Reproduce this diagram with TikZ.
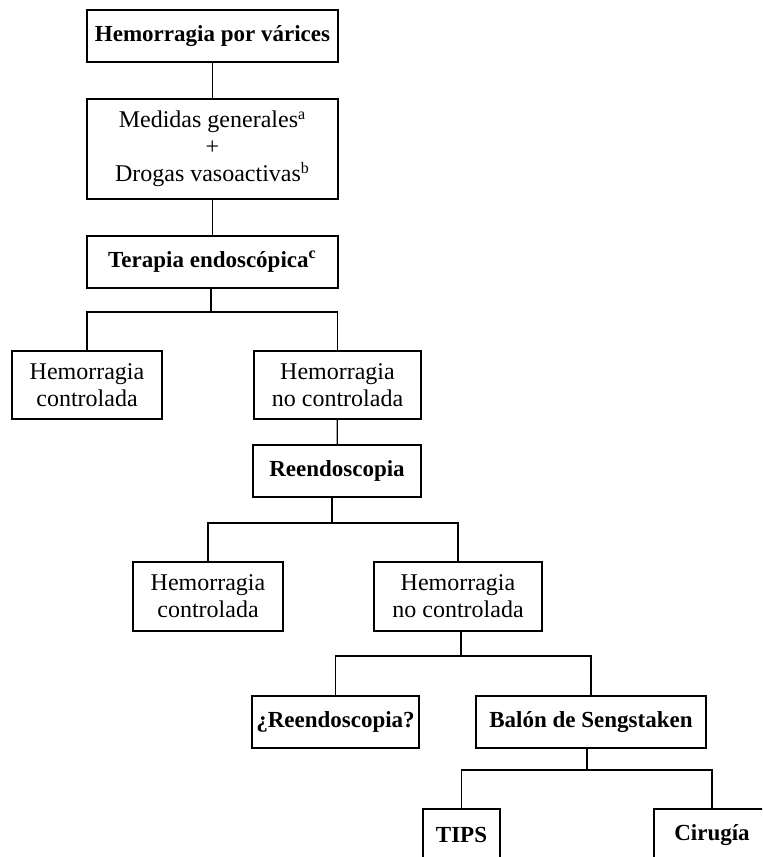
\documentclass[tikz,border=0pt]{standalone}
\usepackage{fontspec}
\setmainfont{Liberation Serif}
\usepackage{tikz}
\usetikzlibrary{positioning}

\begin{document}
\begin{tikzpicture}
 [ x=0.5pt
 , y=-0.5pt
 , line width=0.65pt
 , box/.style={draw, align=center, inner sep=0pt, font=\fontsize{12}{13.5}\selectfont}
 , strong/.style={box, font=\fontsize{11.5}{13.5}\selectfont\bfseries}
 , boxsize/.style 2 args={minimum width=#1*0.5pt, minimum height=#2*0.5pt}
 ]
  \useasboundingbox (0,0) rectangle (762,857);
  \clip (0,0) rectangle (762,857);

  \node [strong, boxsize={251}{52}] (varices) at (212.5,36) {Hemorragia por várices};
  \node [box, boxsize={251}{100}] (medidas) at (212.5,149)
    {Medidas generales\textsuperscript{a}\\+\\Drogas vasoactivas\textsuperscript{b}};
  \node [strong, boxsize={251}{52}] (terapia) at (212.5,262) {Terapia endoscópica\textsuperscript{c}};

  \node [box, boxsize={150}{68}] (controlada1) at (87,385) {Hemorragia\\controlada};
  \node [box, boxsize={167}{68}] (nocontrolada1) at (337.5,385) {Hemorragia\\no controlada};
  \node [strong, boxsize={168}{52}] (reendoscopia) at (337,471) {Reendoscopia};

  \node [box, boxsize={150}{69}] (controlada2) at (208,596.5) {Hemorragia\\controlada};
  \node [box, boxsize={168}{69}] (nocontrolada2) at (458,596.5) {Hemorragia\\no controlada};

  \node [strong, boxsize={167}{52}] (reendoscopia2) at (335.5,722) {¿Reendoscopia?};
  \node [strong, boxsize={230}{52}] (balon) at (591,722) {Balón de Sengstaken};

  \node [strong, boxsize={77}{52}] (tips) at (461.5,835) {TIPS};
  \node [strong, boxsize={116}{52}] (cirugia) at (712,835) {Cirugía};

  % junctions of the branches
  \coordinate (j1) at (211,312);
  \coordinate (j2) at (332,523);
  \coordinate (j3) at (461,656);
  \coordinate (j4) at (587,770);

  \draw (varices) -- (medidas);
  \draw (medidas) -- (terapia);
  \draw (terapia.south -| j1) -- (j1) -| (controlada1.north);
  \draw (j1) -| (nocontrolada1.north);
  \draw (nocontrolada1) -- (reendoscopia);
  \draw (reendoscopia.south -| j2) -- (j2) -| (controlada2.north);
  \draw (j2) -| (nocontrolada2.north);
  \draw (nocontrolada2.south -| j3) -- (j3) -| (reendoscopia2.north);
  \draw (j3) -| (balon.north);
  \draw (balon.south -| j4) -- (j4) -| (tips.north);
  \draw (j4) -| (cirugia.north);
\end{tikzpicture}
\end{document}
